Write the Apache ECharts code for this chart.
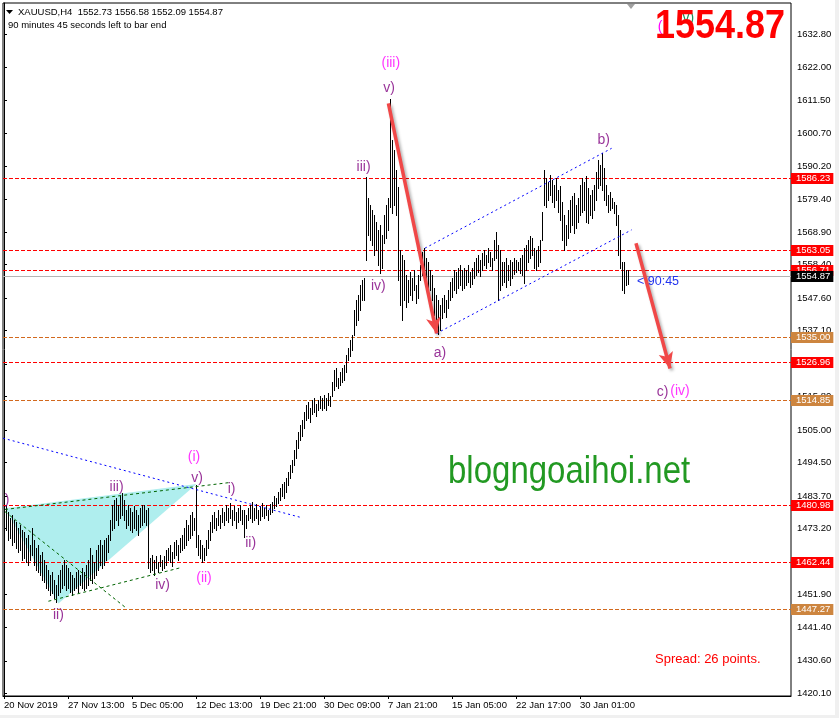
<!DOCTYPE html>
<html>
<head>
<meta charset="utf-8">
<style>
  html, body { margin: 0; padding: 0; background: #fff; }
  #chart { width: 839px; height: 718px; }
</style>
<script src="https://cdn.jsdelivr.net/npm/echarts@6/dist/echarts.min.js"></script>
</head>
<body>
<div id="chart"></div>
<script>
// XAUUSD H4 bars (index 0 = 20 Nov 2019)
const barHigh = [
  1479.2,1480.8,1478.6,1476.6,1477.6,1476.0,1475.3,1473.4,1474.4,1472.7,
  1472.1,1470.2,1471.1,1467.9,1473.4,1469.5,1466.9,1467.9,1464.7,1465.6,
  1463.1,1461.4,1459.8,1458.2,1459.2,1456.6,1455.0,1458.2,1459.8,1461.4,
  1463.1,1461.4,1460.5,1459.2,1458.2,1457.2,1459.2,1459.8,1458.2,1460.5,
  1459.2,1461.4,1463.1,1466.9,1464.7,1462.4,1466.3,1467.9,1469.5,1467.9,
  1469.5,1470.2,1471.1,1476.0,1480.8,1482.4,1483.1,1480.8,1484.1,1484.7,
  1482.4,1479.2,1480.8,1479.9,1478.6,1480.5,1479.2,1477.6,1479.9,1480.8,
  1480.8,1479.2,1479.9,1463.7,1464.7,1463.1,1464.3,1462.4,1464.7,1463.1,
  1464.3,1466.3,1466.9,1467.9,1465.6,1468.9,1469.5,1467.9,1470.2,1471.1,
  1473.4,1476.0,1474.4,1477.6,1478.6,1476.6,1487.3,1471.1,1469.5,1467.9,
  1466.9,1469.5,1472.7,1475.3,1477.6,1478.6,1476.6,1479.2,1477.6,1479.9,
  1478.6,1480.8,1479.9,1481.5,1479.2,1480.5,1478.6,1479.9,1480.8,1479.2,
  1479.2,1477.6,1479.9,1480.8,1481.8,1479.9,1481.1,1479.2,1480.5,1481.5,
  1479.9,1480.8,1479.2,1481.1,1481.8,1483.7,1483.1,1485.0,1486.3,1487.6,
  1488.2,1489.5,1491.5,1493.7,1495.3,1498.6,1501.8,1504.3,1506.6,1508.2,
  1510.8,1513.1,1514.1,1512.1,1514.7,1515.3,1513.4,1514.7,1516.0,1515.3,
  1516.3,1515.3,1517.0,1516.0,1520.5,1524.4,1525.0,1521.8,1523.7,1525.0,
  1526.0,1529.2,1531.4,1534.0,1535.6,1543.7,1546.9,1548.5,1551.8,1553.4,
  1554.0,1586.6,1579.9,1577.6,1576.0,1574.4,1572.1,1569.5,1571.1,1567.9,
  1574.4,1577.6,1579.9,1611.8,1598.6,1595.4,1588.9,1583.4,1563.1,1561.5,
  1559.9,1555.0,1553.4,1556.0,1554.0,1556.6,1551.8,1555.0,1558.2,1562.4,
  1563.7,1560.5,1559.2,1556.6,1555.0,1550.8,1548.5,1546.9,1545.3,1547.6,
  1548.5,1546.9,1550.2,1552.7,1554.0,1556.6,1556.0,1557.3,1558.2,1556.6,
  1557.3,1556.6,1558.2,1556.0,1557.3,1559.2,1560.5,1561.5,1559.9,1562.1,
  1563.1,1561.5,1563.7,1562.4,1560.5,1566.3,1568.9,1564.7,1563.1,1559.2,
  1559.2,1560.5,1558.2,1559.9,1559.2,1560.5,1559.9,1559.2,1560.5,1561.5,
  1563.7,1564.7,1566.3,1567.6,1567.0,1563.7,1563.1,1564.4,1566.3,1575.3,
  1588.9,1586.3,1585.0,1587.3,1585.7,1584.0,1586.3,1582.4,1583.7,1578.6,
  1574.4,1571.1,1576.0,1579.2,1580.5,1581.5,1577.6,1579.9,1584.0,1586.3,
  1585.0,1586.9,1583.1,1580.8,1582.4,1584.0,1588.2,1592.1,1590.5,1594.4,
  1589.5,1584.0,1580.8,1581.8,1579.9,1578.6,1577.6,1574.4,1569.5,1559.2,1559.2,1556.6,1556.58
];
const barLow = [
  1471.1,1472.7,1469.5,1470.2,1467.9,1468.9,1466.9,1465.6,1466.3,1463.1,
  1463.7,1462.4,1461.4,1463.1,1464.7,1461.4,1459.8,1459.2,1458.2,1456.6,
  1455.9,1454.0,1453.4,1451.8,1452.4,1450.8,1449.5,1451.8,1452.7,1454.0,
  1455.0,1453.4,1454.0,1452.7,1451.8,1453.4,1454.0,1452.7,1455.0,1454.0,
  1453.4,1454.0,1455.0,1456.6,1455.6,1457.2,1458.2,1459.8,1461.4,1460.5,
  1461.4,1463.1,1465.6,1469.5,1472.7,1473.4,1476.0,1474.4,1476.6,1477.6,
  1476.0,1473.4,1474.4,1472.7,1472.1,1473.4,1472.7,1471.1,1473.7,1474.4,
  1475.3,1474.4,1460.5,1459.2,1459.8,1458.2,1460.5,1459.2,1461.1,1459.8,
  1460.5,1461.4,1463.1,1462.4,1461.1,1463.7,1464.7,1463.1,1465.6,1466.3,
  1466.9,1467.9,1469.5,1470.2,1471.1,1472.7,1467.3,1464.7,1463.7,1462.4,
  1463.1,1464.7,1466.9,1469.5,1472.1,1473.4,1472.7,1474.4,1473.4,1475.3,
  1474.4,1476.0,1475.3,1476.6,1474.4,1476.0,1473.4,1475.3,1476.0,1474.7,
  1470.5,1473.4,1476.0,1476.6,1475.3,1476.0,1476.6,1474.7,1476.0,1477.3,
  1476.6,1477.6,1476.0,1477.9,1478.6,1479.9,1480.5,1481.5,1482.4,1483.7,
  1483.1,1485.0,1487.3,1489.5,1491.5,1493.7,1496.0,1499.2,1501.8,1503.1,
  1505.6,1508.2,1508.9,1507.6,1510.2,1510.8,1509.5,1511.5,1512.1,1511.5,
  1512.1,1511.5,1513.1,1512.8,1516.0,1517.9,1519.2,1518.6,1519.5,1520.5,
  1521.1,1523.7,1527.6,1528.9,1530.8,1535.6,1538.9,1540.5,1543.7,1546.9,
  1546.9,1559.9,1567.9,1566.3,1564.7,1561.5,1563.1,1558.2,1555.6,1557.3,
  1565.3,1567.0,1569.5,1576.9,1575.0,1577.6,1574.4,1553.4,1545.3,1540.5,
  1546.9,1544.7,1546.3,1548.5,1546.9,1550.2,1545.9,1547.6,1553.4,1555.0,
  1554.3,1551.8,1549.2,1550.2,1546.9,1542.1,1540.5,1536.0,1537.2,1541.1,
  1543.0,1541.4,1544.3,1546.9,1547.9,1550.2,1549.2,1550.8,1551.8,1550.2,
  1550.8,1551.8,1552.7,1551.1,1552.1,1554.0,1555.0,1556.0,1554.7,1556.6,
  1558.2,1557.3,1559.2,1557.9,1556.6,1559.9,1560.5,1546.9,1550.2,1551.8,
  1552.7,1551.1,1553.4,1551.8,1554.0,1555.3,1556.0,1556.6,1555.6,1555.0,
  1552.4,1556.6,1559.2,1560.5,1561.5,1557.3,1556.6,1557.9,1559.2,1566.3,
  1577.6,1576.9,1579.2,1580.8,1578.6,1576.9,1579.2,1575.3,1572.7,1566.3,
  1563.1,1564.7,1567.0,1568.9,1571.1,1568.5,1570.2,1572.1,1574.4,1575.3,
  1576.0,1572.1,1571.8,1574.4,1573.4,1576.0,1579.2,1583.1,1584.0,1582.4,
  1579.2,1577.6,1575.3,1576.0,1576.6,1575.0,1571.1,1561.5,1557.3,1550.2,1549.2,1551.8,1552.09
];

const lastQuote = { open: 1552.73, high: 1556.58, low: 1552.09, close: 1554.87 };

const xTickBars = [0, 32, 64, 96, 128, 160, 192, 224, 256, 288];
const xTickLabels = ['20 Nov 2019', '27 Nov 13:00', '5 Dec 05:00', '12 Dec 13:00', '19 Dec 21:00',
  '30 Dec 09:00', '7 Jan 21:00', '15 Jan 05:00', '22 Jan 17:00', '30 Jan 01:00'];
const yTicks = [1420.1, 1430.6, 1441.4, 1451.9, 1462.4, 1473.2, 1483.7, 1494.5, 1505.0, 1515.8,
  1526.3, 1537.1, 1547.6, 1558.4, 1568.9, 1579.4, 1590.2, 1600.7, 1611.5, 1622.0, 1632.8];

// horizontal levels: r = red, o = orange, b = bid line
const levelValues = [1586.23, 1563.05, 1556.71, 1535.00, 1526.96, 1514.85, 1480.98, 1462.44, 1447.27, 1554.87];
const levelKinds  = ['r', 'r', 'r', 'o', 'r', 'o', 'r', 'r', 'o', 'b'];

// trend lines [bar1, price1, bar2, price2]
const blueDotted = [
  [-0.5, 1502.4, 148, 1476.9],
  [210.5, 1563.7, 303.8, 1595.9],
  [216.3, 1536.2, 313.8, 1569.6]
];
const greenDashed = [
  [0.5, 1479.4, 113, 1488.1],
  [22.2, 1449.8, 88.8, 1460.7],
  [0.5, 1478.7, 61.3, 1447.5]
];
const redArrows = [
  [192.2, 1610.4, 216.3, 1536.2],
  [316, 1565.3, 333, 1524.9]
];
const triangleBars = [0.5, 96.3, 27.2];
const trianglePrices = [1479.8, 1487.6, 1449.1];

// wave labels
const waveText  = ['(iii)', 'v)', 'iii)', 'iv)', 'a)', 'b)', 'c)', '(iv)',
  '(i)', 'v)', 'iii)', ')', 'i)', 'ii)', 'iv)', '(ii)', 'ii)'];
const waveBar   = [193.4, 192.5, 179.8, 187.2, 218, 299.9, 329.3, 338,
  95, 96.5, 56.3, 1.5, 113.8, 123.3, 79.3, 100, 27.2];
const wavePrice = [1623.4, 1615.3, 1589.7, 1551.3, 1529.7, 1598.6, 1517.4, 1517.6,
  1496.2, 1489.4, 1486.7, 1482.5, 1485.8, 1468.7, 1454.9, 1457.4, 1445.4];

const FONT = 'Liberation Sans';
const PURPLE = '#800080';
const MAGENTA = '#FF00FF';
const RED = '#FF0000';

const levelStyle = {
  r: { line: '#FF0000', tag: '#FF0000', dash: [4, 2] },
  o: { line: '#D2691E', tag: '#CD853F', dash: [4, 2] },
  b: { line: '#B4B4B4', tag: '#000000', dash: null }
};

const chart = echarts.init(document.getElementById('chart'));

const bars = barHigh.map((h, i) => [i, barLow[i], h]);

function renderBar(params, api) {
  const top = api.coord([api.value(0), api.value(2)]);
  const bottom = api.coord([api.value(0), api.value(1)]);
  const x = Math.round(top[0]) + 0.5;
  return {
    type: 'line',
    shape: { x1: x, y1: Math.round(top[1]), x2: x, y2: Math.round(bottom[1]) + 1 },
    style: { stroke: '#000', lineWidth: 1 }
  };
}

function renderTriangle(params, api) {
  const points = triangleBars.map((b, k) => api.coord([b, trianglePrices[k]]));
  return { type: 'polygon', shape: { points }, style: { fill: '#AFEEEE' } };
}

// level line across the grid plus its price tag right of the axis
function renderLevel(params, api) {
  const cs = params.coordSys;
  const value = api.value(0);
  const st = levelStyle[levelKinds[params.dataIndex]];
  const y = Math.round(api.coord([0, value])[1]) + 0.5;
  return {
    type: 'group',
    children: [
      {
        type: 'line',
        shape: { x1: cs.x, y1: y, x2: cs.x + cs.width, y2: y },
        style: { stroke: st.line, lineWidth: 1, lineDash: st.dash }
      },
      {
        type: 'text',
        x: cs.x + cs.width,
        y: y,
        style: {
          text: value.toFixed(2),
          fill: '#fff',
          font: '9.5px "Liberation Sans"',
          backgroundColor: st.tag,
          padding: [1, 3, 0, 5],
          verticalAlign: 'middle'
        }
      }
    ]
  };
}

const arrowData = redArrows.map(s => [
  { coord: [s[0], s[1]], symbol: 'none' },
  { coord: [s[2], s[3]], symbol: 'arrow', symbolSize: [11, 16] }
]);

function segments(list, style) {
  return list.map(s => [
    { coord: [s[0], s[1]], lineStyle: style },
    { coord: [s[2], s[3]] }
  ]);
}

const option = {
  animation: false,
  backgroundColor: '#fff',
  grid: {
    left: 3, right: 48, top: 3, bottom: 22,
    show: true, borderColor: '#000', borderWidth: 1, backgroundColor: '#fff'
  },
  xAxis: {
    type: 'value',
    min: -0.5,
    max: 393.5,
    axisLine: { lineStyle: { color: '#000', width: 1 } },
    axisTick: { customValues: xTickBars, length: 3, lineStyle: { color: '#000' } },
    axisLabel: {
      customValues: xTickBars,
      formatter: v => xTickLabels[xTickBars.indexOf(v)],
      align: 'left',
      margin: 4,
      color: '#000',
      fontFamily: FONT,
      fontSize: 9.5
    },
    splitLine: { show: false }
  },
  yAxis: {
    type: 'value',
    position: 'right',
    min: 1419.23,
    max: 1642.78,
    axisLine: { show: true, lineStyle: { color: '#000', width: 1 } },
    axisTick: { show: true, customValues: yTicks, length: 3, lineStyle: { color: '#000' } },
    axisLabel: {
      customValues: yTicks,
      formatter: v => v.toFixed(2),
      margin: 6,
      color: '#000',
      fontFamily: FONT,
      fontSize: 9.5
    },
    splitLine: { show: false }
  },
  series: [
    {
      type: 'custom',
      z: 1,
      silent: true,
      renderItem: renderTriangle,
      data: [[0]]
    },
    {
      type: 'custom',
      z: 2,
      silent: true,
      clip: false,
      renderItem: renderLevel,
      encode: { y: 0 },
      data: levelValues.map(v => [v])
    },
    {
      type: 'custom',
      z: 3,
      silent: true,
      renderItem: renderBar,
      data: bars
    },
    {
      type: 'line',
      z: 4,
      silent: true,
      data: [],
      markLine: {
        silent: true,
        symbol: 'none',
        label: { show: false },
        data: segments(blueDotted, { color: '#0000FF', type: [2, 3], width: 1 })
          .concat(segments(greenDashed, { color: '#006400', type: [3, 3], width: 1 }))
      }
    },
    {
      type: 'line',
      z: 6,
      silent: true,
      data: [],
      markLine: {
        silent: true,
        symbol: ['none', 'arrow'],
        symbolSize: [11, 16],
        label: { show: false },
        lineStyle: {
          color: '#F04848', type: 'solid', width: 3.5,
          shadowColor: 'rgba(0,0,0,0.3)', shadowBlur: 3, shadowOffsetX: 2, shadowOffsetY: 2
        },
        itemStyle: { color: '#F04848' },
        data: arrowData
      }
    },
    {
      type: 'scatter',
      z: 5,
      silent: true,
      symbolSize: 0,
      data: waveText.map((t, k) => ({
        value: [waveBar[k], wavePrice[k]],
        name: t,
        label: { color: t.startsWith('(') ? MAGENTA : PURPLE }
      })),
      label: {
        show: true,
        position: 'inside',
        formatter: p => p.name,
        fontFamily: FONT,
        fontSize: 14
      }
    }
  ],
  graphic: [
    { type: 'rect', shape: { x: 835, y: 0, width: 4, height: 718 }, style: { fill: '#F0F0F0' }, z: 0 },
    { type: 'rect', shape: { x: 0, y: 715, width: 839, height: 3 }, style: { fill: '#F0F0F0' }, z: 0 },
    { type: 'polygon', shape: { points: [[6, 10], [13, 10], [9.5, 14]] }, style: { fill: '#000' }, z: 10 },
    {
      type: 'text', x: 18, y: 12.5, z: 10,
      style: {
        text: 'XAUUSD,H4  ' + [lastQuote.open, lastQuote.high, lastQuote.low, lastQuote.close].map(v => v.toFixed(2)).join(' '),
        fill: '#000', font: '9.5px "Liberation Sans"', verticalAlign: 'middle'
      }
    },
    {
      type: 'text', x: 8, y: 25, z: 10,
      style: { text: '90 minutes 45 seconds left to bar end', fill: '#000', font: '9.5px "Liberation Sans"', verticalAlign: 'middle' }
    },
    { type: 'polygon', shape: { points: [[627, 4], [635, 4], [631, 9]] }, style: { fill: '#A0A0A0' }, z: 10 },
    {
      type: 'text', x: 660, y: 27, z: 10,
      style: { text: '(', fill: MAGENTA, font: '14px "Liberation Sans"', align: 'center', verticalAlign: 'middle' }
    },
    {
      type: 'text', x: 686, y: 18, z: 10,
      style: { text: '(v)', fill: '#1A8F5A', font: '14px "Liberation Sans"', align: 'center', verticalAlign: 'middle' }
    },
    {
      type: 'text', x: 655, y: 27, scaleY: 1.15, z: 11,
      style: { text: lastQuote.close.toFixed(2), fill: RED, font: 'bold 36px "Liberation Sans"', verticalAlign: 'middle' }
    },
    {
      type: 'text', x: 448, y: 473, scaleY: 1.15, z: 10,
      style: { text: 'blogngoaihoi.net', fill: '#229922', font: '33px "Liberation Sans"', verticalAlign: 'middle' }
    },
    {
      type: 'text', x: 637, y: 282, z: 10,
      style: { text: '< 90:45', fill: '#2233EE', font: '12.5px "Liberation Sans"', verticalAlign: 'middle' }
    },
    {
      type: 'text', x: 655, y: 659, z: 10,
      style: { text: 'Spread: 26 points.', fill: RED, font: '13px "Liberation Sans"', verticalAlign: 'middle' }
    }
  ]
};

chart.setOption(option);
</script>
</body>
</html>
